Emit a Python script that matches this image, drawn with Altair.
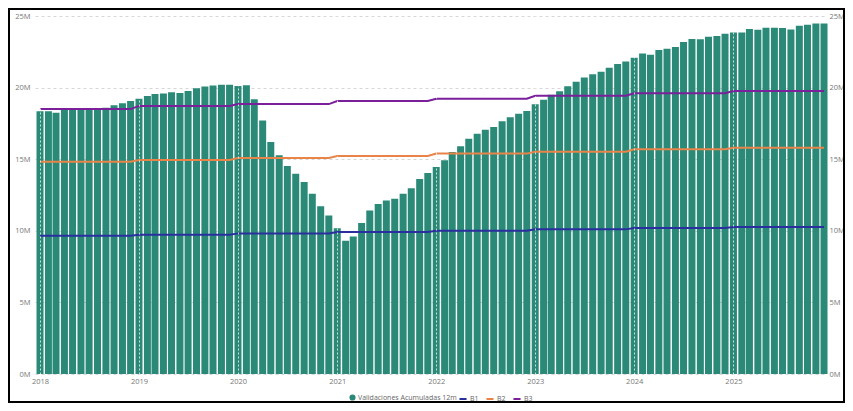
import altair as alt
import pandas as pd

# Monthly "Validaciones Acumuladas 12m" (millions), Jan..Dec per year
years = [2018, 2019, 2020, 2021, 2022, 2023, 2024, 2025]
val_2018 = [18.35, 18.35, 18.25, 18.5, 18.5, 18.5, 18.5, 18.5, 18.6, 18.77, 18.9, 19.07]
val_2019 = [19.23, 19.42, 19.56, 19.58, 19.68, 19.63, 19.77, 19.96, 20.07, 20.14, 20.2, 20.2]
val_2020 = [20.12, 20.17, 19.19, 17.7, 16.2, 15.27, 14.52, 13.98, 13.4, 12.58, 11.72, 11.06]
val_2021 = [10.18, 9.31, 9.61, 10.55, 11.41, 11.88, 12.11, 12.23, 12.58, 12.98, 13.61, 14.03]
val_2022 = [14.45, 14.92, 15.5, 15.9, 16.43, 16.78, 17.06, 17.25, 17.65, 17.93, 18.18, 18.37]
val_2023 = [18.84, 19.16, 19.5, 19.75, 20.1, 20.4, 20.7, 20.94, 21.1, 21.38, 21.64, 21.83]
val_2024 = [22.08, 22.38, 22.29, 22.62, 22.71, 22.83, 23.18, 23.39, 23.37, 23.55, 23.6, 23.76]
val_2025 = [23.85, 23.85, 24.09, 24.04, 24.18, 24.18, 24.16, 24.06, 24.32, 24.39, 24.48, 24.48]
bar_values = [val_2018, val_2019, val_2020, val_2021, val_2022, val_2023, val_2024, val_2025]

# Yearly reference levels (millions)
b1 = [9.66, 9.73, 9.82, 9.92, 10.01, 10.10, 10.20, 10.27]
b2 = [14.83, 14.94, 15.08, 15.22, 15.39, 15.52, 15.69, 15.80]
b3 = [18.50, 18.72, 18.85, 19.06, 19.22, 19.43, 19.60, 19.76]

bar_name = "Validaciones Acumuladas 12m"
line_names = ["B1", "B2", "B3"]
line_colors = ["#2B2E9E", "#E8844A", "#7B1F9A"]
bar_color = "#2A8A77"

bar_rows = []
line_rows = []
for yi, y in enumerate(years):
    for m in range(12):
        d = f"{y}-{m + 1:02d}-01"
        bar_rows.append({"date": d, "value": bar_values[yi][m] * 1e6, "serie": bar_name})
        for name, arr in zip(line_names, [b1, b2, b3]):
            line_rows.append({"date": d, "value": arr[yi] * 1e6, "serie": name})
bars_df = pd.DataFrame(bar_rows)
lines_df = pd.DataFrame(line_rows)

FONT = "Open Sans"
LABEL_COLOR = "#777777"
x_scale = alt.Scale(type="utc", domain=["2017-12-13T12:00:00", "2025-12-12T00:00:00"],
                    nice=False, padding=0)
y_domain = [0, 25e6]
y_values = [0, 5e6, 10e6, 15e6, 20e6, 25e6]
label_expr = "datum.value / 1000000 + 'M'"

bars = alt.Chart(bars_df).mark_bar(width=7).encode(
    x=alt.X("date:T", scale=x_scale, title=None,
            axis=alt.Axis(format="%Y", tickCount="year", grid=True, gridColor="#ffffff",
                          gridOpacity=0.75, gridDash=[2, 2], gridWidth=1, domain=False,
                          ticks=False, labelColor=LABEL_COLOR, labelFontSize=7.5,
                          labelFont=FONT, labelPadding=3, zindex=1)),
    y=alt.Y("value:Q", scale=alt.Scale(domain=y_domain, nice=False), title=None,
            axis=alt.Axis(values=y_values, labelExpr=label_expr, grid=True,
                          gridColor="#d6d6d6", gridDash=[3, 3], domain=False, ticks=False,
                          labelColor=LABEL_COLOR, labelFontSize=7.5, labelFont=FONT,
                          labelPadding=5)),
    fill=alt.Fill("serie:N", scale=alt.Scale(domain=[bar_name], range=[bar_color]),
                  legend=alt.Legend(orient="none", legendX=314, legendY=378, title=None,
                                    symbolType="circle", symbolSize=38, labelFontSize=7,
                                    labelFont=FONT, labelColor="#666666", padding=0,
                                    labelOffset=2, symbolStrokeWidth=0)),
)

lines = alt.Chart(lines_df).mark_line(strokeWidth=2).encode(
    x=alt.X("date:T", scale=x_scale, title=None),
    y=alt.Y("value:Q", scale=alt.Scale(domain=y_domain, nice=False), title=None,
            axis=alt.Axis(orient="right", values=y_values, labelExpr=label_expr, grid=False,
                          domain=False, ticks=False, labelColor=LABEL_COLOR,
                          labelFontSize=7.5, labelFont=FONT, labelPadding=2)),
    stroke=alt.Stroke("serie:N", scale=alt.Scale(domain=line_names, range=line_colors),
                      legend=alt.Legend(orient="none", legendX=423, legendY=378, title=None,
                                        direction="horizontal", columns=3, columnPadding=3,
                                        symbolType="stroke", symbolSize=50,
                                        symbolStrokeWidth=2, labelFontSize=7,
                                        labelFont=FONT, labelColor="#666666", padding=0,
                                        labelOffset=2)),
)

frame = alt.Chart(pd.DataFrame({"k": [0]})).mark_rect(
    fill="transparent", stroke="#000000", strokeWidth=2
).encode(x=alt.value(-26), x2=alt.value(809), y=alt.value(-7), y2=alt.value(386))

chart = alt.layer(bars, lines, frame).resolve_scale(y="independent").properties(
    width=792, height=358,
    autosize=alt.AutoSizeParams(type="none"),
    padding={"left": 27, "top": 8, "right": 18, "bottom": 29},
    background="#ffffff",
).configure_view(stroke=None)

chart.save("out.html", embed_options={"renderer": "svg", "actions": False})
